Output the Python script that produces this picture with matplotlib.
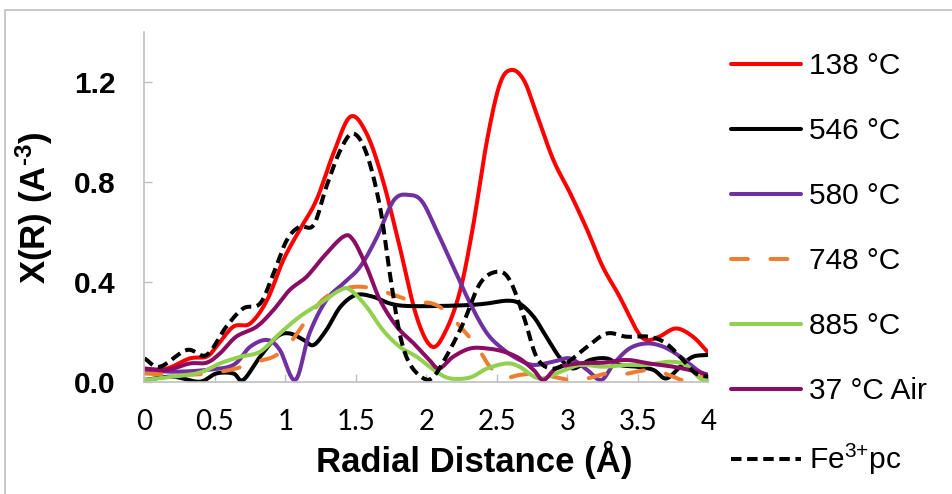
import numpy as np
import matplotlib
matplotlib.use('Agg')
import matplotlib.pyplot as plt
from matplotlib.patches import Rectangle

plt.rcParams['mathtext.fontset'] = 'custom'
plt.rcParams['mathtext.rm'] = 'Liberation Sans'
plt.rcParams['mathtext.it'] = 'Liberation Sans'
plt.rcParams['mathtext.bf'] = 'Liberation Sans:bold'

# FT-EXAFS magnitudes, X(R) vs radial distance
r_138 = [0, 0.16, 0.32, 0.44, 0.51, 0.63, 0.75, 0.87, 0.985, 1.10, 1.22, 1.34, 1.46, 1.575,
         1.69, 1.81, 1.93, 2.04, 2.14, 2.24, 2.33, 2.43, 2.52, 2.60, 2.69, 2.78, 2.90, 3.02,
         3.14, 3.25, 3.37, 3.49, 3.56, 3.65, 3.77, 3.89, 4.0]
x_138 = [0.047, 0.053, 0.093, 0.10, 0.14, 0.22, 0.233, 0.327, 0.487, 0.607, 0.727, 0.913, 1.06, 0.993,
         0.807, 0.54, 0.26, 0.14, 0.207, 0.367, 0.62, 0.967, 1.19, 1.247, 1.207, 1.073, 0.887, 0.753,
         0.607, 0.46, 0.34, 0.207, 0.167, 0.18, 0.213, 0.18, 0.115]

r_546 = [0, 0.2, 0.39, 0.51, 0.63, 0.70, 0.82, 0.94, 1.03, 1.13, 1.20, 1.29, 1.39, 1.50, 1.62,
         1.74, 1.86, 2.1, 2.31, 2.43, 2.57, 2.66, 2.76, 2.85, 2.95, 3.04, 3.16, 3.28, 3.37, 3.49,
         3.61, 3.70, 3.80, 3.89, 4.0]
x_546 = [0.007, 0.02, 0.0, 0.033, 0.033, 0.007, 0.10, 0.18, 0.193, 0.167, 0.147, 0.207, 0.30, 0.347, 0.34,
         0.313, 0.303, 0.303, 0.307, 0.313, 0.324, 0.313, 0.26, 0.18, 0.093, 0.053, 0.087, 0.093, 0.067, 0.06,
         0.047, 0.013, 0.06, 0.10, 0.107]

r_580 = [0, 0.2, 0.44, 0.63, 0.75, 0.87, 0.96, 1.07, 1.17, 1.29, 1.41, 1.53, 1.65, 1.77, 1.88,
         1.97, 2.07, 2.19, 2.31, 2.43, 2.55, 2.66, 2.76, 2.90, 3.02, 3.14, 3.24, 3.33, 3.44, 3.56,
         3.68, 3.80, 3.92, 4.0]
x_580 = [0.047, 0.04, 0.047, 0.067, 0.14, 0.167, 0.127, 0.007, 0.193, 0.327, 0.393, 0.46, 0.58, 0.727, 0.747,
         0.72, 0.607, 0.46, 0.313, 0.193, 0.127, 0.087, 0.067, 0.08, 0.093, 0.047, 0.007, 0.073, 0.133, 0.153,
         0.14, 0.10, 0.047, 0.02]

r_748 = [0, 0.2, 0.39, 0.535, 0.65, 0.795, 0.915, 1.01, 1.10, 1.20, 1.29, 1.39, 1.50, 1.62, 1.77,
         1.91, 2.04, 2.14, 2.26, 2.36, 2.45, 2.55, 2.66, 2.78, 2.90, 3.02, 3.14, 3.28, 3.37, 3.49,
         3.61, 3.75, 3.82, 3.89, 3.96]
x_748 = [0.033, 0.027, 0.03, 0.04, 0.053, 0.08, 0.10, 0.14, 0.207, 0.287, 0.34, 0.367, 0.38, 0.373, 0.347,
         0.32, 0.313, 0.28, 0.207, 0.14, 0.06, 0.017, 0.027, 0.033, 0.02, 0.007, 0.013, 0.033, 0.027, 0.04,
         0.047, 0.02, 0.007, 0.033, 0.02]

r_885 = [0, 0.2, 0.39, 0.535, 0.68, 0.82, 0.96, 1.10, 1.245, 1.39, 1.46, 1.575, 1.69, 1.81, 1.93,
         2.07, 2.17, 2.31, 2.43, 2.57, 2.66, 2.80, 2.95, 3.09, 3.25, 3.42, 3.56, 3.72, 3.84, 3.94, 4.0]
x_885 = [0.007, 0.02, 0.036, 0.073, 0.10, 0.12, 0.193, 0.26, 0.313, 0.367, 0.367, 0.30, 0.207, 0.14, 0.10,
         0.04, 0.013, 0.017, 0.053, 0.073, 0.06, 0.013, 0.04, 0.067, 0.06, 0.067, 0.067, 0.08, 0.067, 0.013, 0.007]

r_air = [0, 0.16, 0.32, 0.44, 0.535, 0.65, 0.795, 0.915, 1.03, 1.15, 1.27, 1.41, 1.48, 1.575, 1.67,
         1.79, 1.91, 2.02, 2.09, 2.19, 2.31, 2.43, 2.55, 2.66, 2.76, 2.83, 2.92, 3.07, 3.25, 3.42,
         3.58, 3.75, 3.92, 4.0]
x_air = [0.053, 0.047, 0.073, 0.076, 0.113, 0.18, 0.22, 0.287, 0.367, 0.42, 0.50, 0.58, 0.567, 0.46, 0.327,
         0.22, 0.153, 0.087, 0.053, 0.10, 0.133, 0.133, 0.12, 0.093, 0.047, 0.007, 0.053, 0.073, 0.076, 0.087,
         0.073, 0.06, 0.04, 0.027]

r_fe = [0, 0.11, 0.30, 0.44, 0.58, 0.70, 0.82, 0.915, 1.01, 1.10, 1.20, 1.29, 1.39, 1.48, 1.575,
        1.67, 1.74, 1.81, 1.88, 1.98, 2.05, 2.14, 2.26, 2.38, 2.50, 2.59, 2.69, 2.78, 2.88, 2.99,
        3.14, 3.28, 3.42, 3.58, 3.70, 3.82, 3.91, 4.0]
x_fe = [0.093, 0.06, 0.127, 0.107, 0.22, 0.293, 0.313, 0.433, 0.567, 0.62, 0.627, 0.78, 0.927, 0.993, 0.913,
        0.70, 0.433, 0.193, 0.073, 0.013, 0.02, 0.10, 0.233, 0.393, 0.44, 0.407, 0.26, 0.10, 0.053, 0.073,
        0.14, 0.193, 0.18, 0.18, 0.153, 0.087, 0.033, 0.02]

series = [
    (r_138, x_138, '138 °C', '#FF0000', '-'),
    (r_546, x_546, '546 °C', '#000000', '-'),
    (r_580, x_580, '580 °C', '#7030A0', '-'),
    (r_748, x_748, '748 °C', '#ED7D31', (0, (4.2, 5.6))),
    (r_885, x_885, '885 °C', '#92D050', '-'),
    (r_air, x_air, '37 °C Air', '#8B0C64', '-'),
    (r_fe, x_fe, 'Fe$^{3{+}}$pc', '#000000', (0, (2.6, 1.4))),
]

def smooth(xs, ys):
    xs = np.asarray(xs, float)
    ys = np.asarray(ys, float)
    px = np.concatenate([[2 * xs[0] - xs[1]], xs, [2 * xs[-1] - xs[-2]]])
    py = np.concatenate([[2 * ys[0] - ys[1]], ys, [2 * ys[-1] - ys[-2]]])
    out_x, out_y = [], []
    for i in range(1, len(px) - 2):
        t = np.linspace(0, 1, 12, endpoint=False)
        for arr, out in ((px, out_x), (py, out_y)):
            p0, p1, p2, p3 = arr[i - 1], arr[i], arr[i + 1], arr[i + 2]
            out.extend(0.5 * ((2 * p1) + (-p0 + p2) * t + (2 * p0 - 5 * p1 + 4 * p2 - p3) * t ** 2
                              + (-p0 + 3 * p1 - 3 * p2 + p3) * t ** 3))
    out_x.append(xs[-1])
    out_y.append(ys[-1])
    return np.array(out_x), np.clip(np.array(out_y), 0, None)

fig = plt.figure(figsize=(9.53, 4.94), dpi=100)
ax = fig.add_axes([0.1516, 0.2273, 0.5918, 0.7085])

for r, v, lab, col, ls in series:
    sx, sy = smooth(r, v)
    ax.plot(sx, sy, color=col, lw=2.9, ls=ls, label=lab,
            solid_capstyle='round', dash_capstyle='round' if col == '#ED7D31' else 'butt')

ax.set_xlim(0, 4)
ax.set_ylim(0, 1.4)
ax.set_xticks(np.arange(0, 4.01, 0.5))
ax.set_xticklabels(['0', '0.5', '1', '1.5', '2', '2.5', '3', '3.5', '4'],
                   fontfamily='Lato', fontsize=20)
ax.set_yticks([0, 0.4, 0.8, 1.2])
ax.set_yticklabels(['0.0', '0.4', '0.8', '1.2'], fontfamily='Liberation Sans',
                   fontweight='bold', fontsize=21.5)
ax.tick_params(axis='both', direction='in', length=6, width=1, color='#BFBFBF')
ax.tick_params(axis='x', pad=20)
ax.tick_params(axis='y', pad=21)
for s in ('top', 'right'):
    ax.spines[s].set_visible(False)
for s in ('left', 'bottom'):
    ax.spines[s].set_color('#BFBFBF')
    ax.spines[s].set_linewidth(1.2)

fig.text(474 / 953, 1 - 472 / 494, 'Radial Distance (Å)', ha='center', va='baseline',
         fontfamily='Liberation Sans', fontweight='bold', fontsize=25)
fig.text(34 / 953, 1 - 208 / 494, 'X(R) (A$^{\\mathbf{\u2010 3}}$)', ha='center', va='center',
         rotation=90, fontfamily='Liberation Sans', fontweight='bold', fontsize=25)

leg = fig.legend(loc='upper left', bbox_to_anchor=(731 / 953, 1 - 52 / 494),
                 frameon=False, borderpad=0, borderaxespad=0, handlelength=2.35,
                 handletextpad=0.25, labelspacing=1.24,
                 prop={'family': 'Liberation Sans', 'size': 21.5})

# outer chart frame
fig.patches.append(Rectangle((5 / 953, -0.1), 1.2, 1 - 10 / 494 + 0.1, transform=fig.transFigure,
                             fill=False, edgecolor='#BFBFBF', lw=1.2))

fig.savefig('out.png', dpi=100)
